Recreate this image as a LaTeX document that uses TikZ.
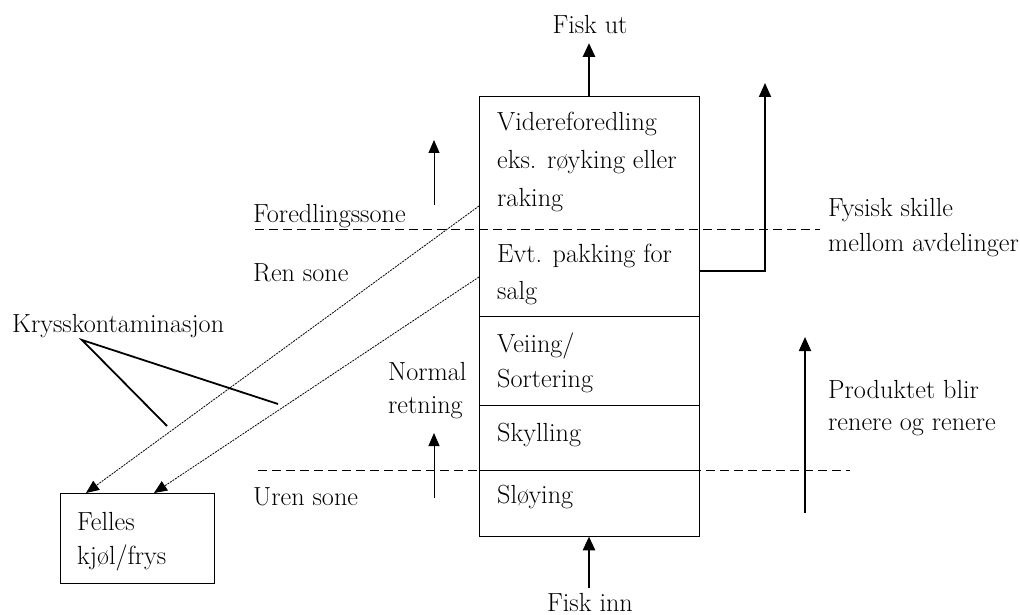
\documentclass[tikz,border=0pt]{standalone}
\usetikzlibrary{arrows.meta}
\begin{document}
\begin{tikzpicture}[x=1pt,y=-1pt,
  every node/.style={font=\fontsize{26.2}{38}\selectfont, inner sep=0pt},
  lbl/.style={anchor=west, align=left},
  boxline/.style={line width=0.9pt},
  zone/.style={line width=0.9pt, dash pattern=on 9pt off 5pt},
  thickarrow/.style={line width=2.8pt, -{Triangle[width=12pt,length=14pt]}},
  medarrow/.style={line width=1.8pt, -{Triangle[width=12pt,length=14pt]}},
  thinarrow/.style={line width=1pt, -{Triangle[width=11pt,length=13pt]}},
  contam/.style={line width=0.8pt, dash pattern=on 2pt off 1pt, -{Triangle[width=11pt,length=13pt]}},
  pointer/.style={line width=1.8pt}]
\useasboundingbox (0,0) rectangle (1020,615);
% main box
\node[draw, boxline, minimum width=220pt, minimum height=440pt] (box) at (589,316) {};
\draw[boxline] (479,316) -- (699,316);
\draw[boxline] (479,405) -- (699,405);
\draw[boxline] (479,470) -- (699,470);
% stage texts
\node[lbl] (s1a) at (497,124) {Videreforedling};
\node[lbl] (s1b) at (497,162) {eks. røyking eller};
\node[lbl] (s1c) at (497,200) {raking};
\node[lbl] (s2a) at (497,256) {Evt. pakking for};
\node[lbl] (s2b) at (497,293) {salg};
\node[lbl] (s3a) at (497,346) {Veiing/};
\node[lbl] (s3b) at (497,381) {Sortering};
\node[lbl] (s4) at (497,435) {Skylling};
\node[lbl] (s5) at (497,497) {Sløying};
% zone lines
\draw[zone] (255,229) -- (820,229);
\draw[zone] (258,470) -- (850,470);
% labels
\node (fiskut) at (590,25) {Fisk ut};
\node (fiskinn) at (590,603) {Fisk inn};
\node[lbl] (fsone) at (253,216) {Foredlingssone};
\node[lbl] (rsone) at (253,273) {Ren sone};
\node[lbl] (usone) at (253,497) {Uren sone};
\node[lbl] (norm1) at (388,372) {Normal};
\node[lbl] (norm2) at (388,408) {retning};
\node[lbl] (fys1) at (828,210) {Fysisk skille};
\node[lbl] (fys2) at (828,245) {mellom avdelinger};
\node[lbl] (prod1) at (828,390) {Produktet blir};
\node[lbl] (prod2) at (828,427) {renere og renere};
\node[lbl] (kryss) at (12,326) {Krysskontaminasjon};
% felles box
\node[draw, boxline, minimum width=154pt, minimum height=90pt] (felles) at (137,538) {};
\node[lbl] (f1) at (77,522) {Felles};
\node[lbl] (f2) at (77,558) {kjøl/frys};
% coordinates
\coordinate (utTip) at (589,43);
\coordinate (innStart) at (589,588);
\coordinate (sideOut) at (699,271);
\coordinate (sideCorner) at (765,271);
\coordinate (sideTip) at (765,83);
\coordinate (upA0) at (434,205);
\coordinate (upA1) at (434,140);
\coordinate (upB0) at (434,498);
\coordinate (upB1) at (434,433);
\coordinate (prodA0) at (805,513);
\coordinate (prodA1) at (805,337);
\coordinate (c1s) at (479,206);
\coordinate (c1e) at (86,493);
\coordinate (c2s) at (479,277);
\coordinate (c2e) at (154,493);
\coordinate (kp) at (82,340);
\coordinate (k1) at (167,426);
\coordinate (k2) at (278,404);
% arrows
\draw[thickarrow] (box.north) -- (utTip);
\draw[thickarrow] (innStart) -- (box.south);
\draw[medarrow] (sideOut) -- (sideCorner) -- (sideTip);
\draw[thinarrow] (upA0) -- (upA1);
\draw[thinarrow] (upB0) -- (upB1);
\draw[medarrow] (prodA0) -- (prodA1);
\draw[contam] (c1s) -- (c1e);
\draw[contam] (c2s) -- (c2e);
\draw[pointer] (k1) -- (kp) -- (k2);
\end{tikzpicture}
\end{document}
